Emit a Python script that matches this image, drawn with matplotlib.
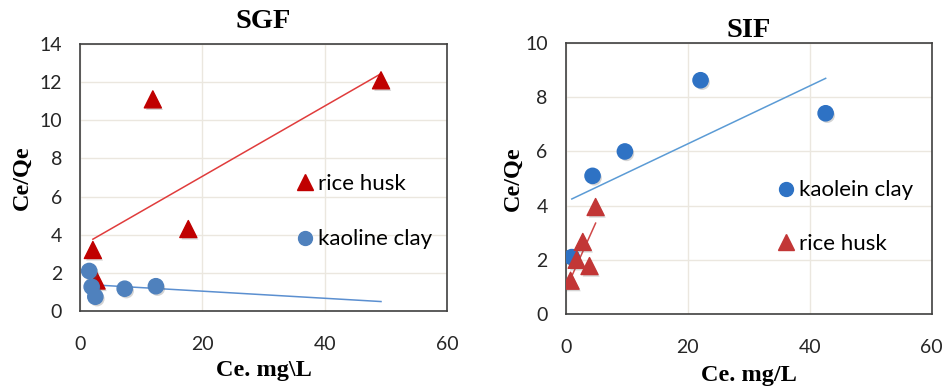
import numpy as np
import matplotlib
matplotlib.use('Agg')
import matplotlib.pyplot as plt
import matplotlib.patheffects as pe
from matplotlib.lines import Line2D

# SGF (simulated gastric fluid) data
sgf_rice_x = [2.1, 2.7, 11.9, 17.7, 49.2]
sgf_rice_y = [3.2, 1.6, 11.1, 4.3, 12.1]
sgf_kaol_x = [1.5, 1.9, 2.5, 7.3, 12.4]
sgf_kaol_y = [2.1, 1.27, 0.75, 1.17, 1.3]
sgf_kaol_fit_end = 49.2

# SIF (simulated intestinal fluid) data
sif_kaol_x = [1.0, 4.4, 9.7, 22.1, 42.6]
sif_kaol_y = [2.1, 5.1, 6.0, 8.63, 7.41]
sif_rice_x = [0.8, 1.8, 2.8, 3.9, 4.9]
sif_rice_y = [1.23, 2.0, 2.66, 1.77, 3.95]

tick_font = 'Lato'
label_font = 'Liberation Serif'
grid_col = '#ebe7df'
shadow = [pe.SimplePatchShadow(offset=(1.2, -1.5), alpha=0.25, shadow_rgbFace='#555555'), pe.Normal()]


def trend(ax, x, y, color, x_end=None):
    k, b = np.polyfit(x, y, 1)
    xs = np.array([min(x), max(x) if x_end is None else x_end])
    ax.plot(xs, k * xs + b, color=color, lw=1.1, zorder=2)


def style_axes(ax, title, title_pad, ylim, ystep, xlabel, xlabel_pad, ylabel_pad):
    ax.set_xlim(0, 60)
    ax.set_ylim(0, ylim)
    ax.set_xticks([0, 20, 40, 60])
    ax.set_yticks(np.arange(0, ylim + 0.1, ystep))
    ax.grid(True, color=grid_col, lw=1.0, zorder=0)
    ax.set_axisbelow(True)
    for sp in ax.spines.values():
        sp.set_color('#404040')
        sp.set_linewidth(1.2)
    ax.tick_params(length=0, labelsize=14, colors='#262626')
    ax.tick_params(axis='y', pad=13)
    ax.tick_params(axis='x', pad=18)
    for lab in ax.get_xticklabels() + ax.get_yticklabels():
        lab.set_fontfamily(tick_font)
    ax.set_title(title, fontfamily=label_font, fontweight='bold', fontsize=20.5, pad=title_pad)
    ax.set_xlabel(xlabel, fontfamily=label_font, fontweight='bold', fontsize=17.5, labelpad=xlabel_pad)
    ax.set_ylabel('Ce/Qe', fontfamily=label_font, fontweight='bold', fontsize=17.5, labelpad=ylabel_pad)


fig = plt.figure(figsize=(9.46, 3.92), dpi=100)
ax1 = fig.add_axes([0.0846, 0.2066, 0.388, 0.681])
ax2 = fig.add_axes([0.598, 0.199, 0.387, 0.691])

# SGF panel
ax1.scatter(sgf_rice_x, sgf_rice_y, marker='^', s=150, color='#c00000', zorder=3, path_effects=shadow)
ax1.scatter(sgf_kaol_x, sgf_kaol_y, marker='o', s=120, color='#4f81bd', zorder=4, path_effects=shadow)
trend(ax1, sgf_rice_x, sgf_rice_y, '#e03c3c')
trend(ax1, sgf_kaol_x, sgf_kaol_y, '#5b8fd0', x_end=sgf_kaol_fit_end)
style_axes(ax1, 'SGF', 11.5, 14, 2, r'Ce. mg\L', 5, 5)
h1 = [Line2D([], [], ls='', marker='^', ms=11, color='#c00000'),
      Line2D([], [], ls='', marker='o', ms=10, color='#4f81bd')]
ax1.legend(h1, ['rice husk', 'kaoline clay'], loc='center left', bbox_to_anchor=(0.54, 0.372),
           frameon=False, handlelength=0.6, handletextpad=0.3, labelspacing=1.6,
           prop={'family': tick_font, 'size': 16})

# SIF panel
ax2.scatter(sif_kaol_x, sif_kaol_y, marker='o', s=120, color='#2e72c4', zorder=3, path_effects=shadow)
ax2.scatter(sif_rice_x, sif_rice_y, marker='^', s=150, color='#c23636', zorder=4, path_effects=shadow)
trend(ax2, sif_kaol_x, sif_kaol_y, '#5b9bd5')
trend(ax2, sif_rice_x, sif_rice_y, '#d04848')
style_axes(ax2, 'SIF', 3, 10, 2, 'Ce. mg/L', 6.5, 0.8)
h2 = [Line2D([], [], ls='', marker='o', ms=10, color='#2e72c4'),
      Line2D([], [], ls='', marker='^', ms=11, color='#c23636')]
ax2.legend(h2, ['kaolein clay', 'rice husk'], loc='center left', bbox_to_anchor=(0.528, 0.358),
           frameon=False, handlelength=0.6, handletextpad=0.3, labelspacing=1.5,
           prop={'family': tick_font, 'size': 16})

fig.savefig('out.png', dpi=100)
